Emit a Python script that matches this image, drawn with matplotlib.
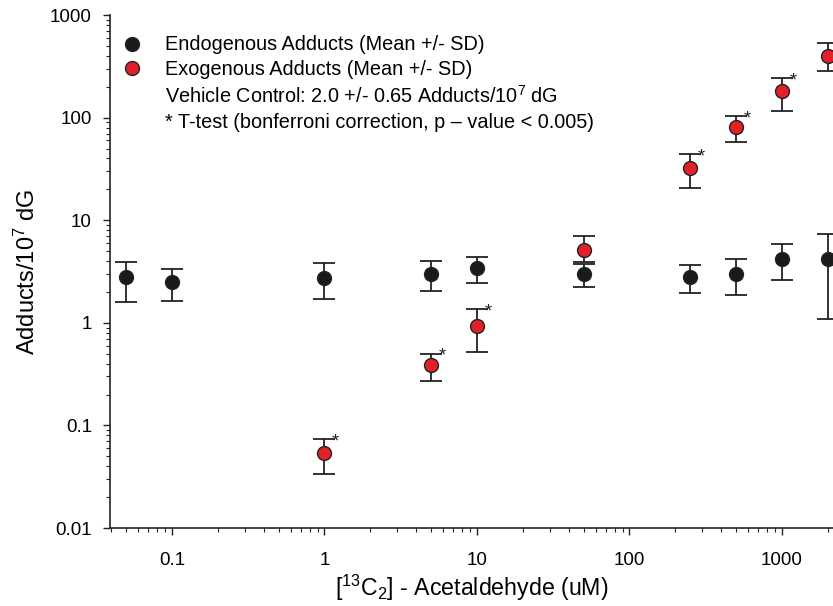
import numpy as np
import matplotlib
matplotlib.use("Agg")
import matplotlib.pyplot as plt
from matplotlib.lines import Line2D

plt.rcParams['font.family'] = ['Liberation Sans', 'DejaVu Sans']
plt.rcParams['mathtext.fontset'] = 'custom'
plt.rcParams['mathtext.rm'] = 'Liberation Sans'
plt.rcParams['mathtext.it'] = 'Liberation Sans:italic'
plt.rcParams['mathtext.bf'] = 'Liberation Sans:bold'

# endogenous adducts (black)
endo_x = [0.05, 0.1, 1, 5, 10, 50, 250, 500, 1000, 2000]
endo_y = [2.77, 2.49, 2.73, 3.01, 3.39, 2.96, 2.79, 3.01, 4.22, 4.22]
endo_hi = [3.91, 3.37, 3.79, 3.97, 4.37, 3.75, 3.63, 4.15, 5.85, 7.3]
endo_lo = [1.59, 1.62, 1.69, 2.02, 2.44, 2.23, 1.96, 1.85, 2.6, 1.09]

# exogenous adducts (red)
exo_x = [1, 5, 10, 50, 250, 500, 1000, 2000]
exo_y = [0.0537, 0.389, 0.94, 5.08, 32.6, 80.2, 180, 402]
exo_hi = [0.0736, 0.501, 1.35, 7.0, 44, 102.8, 241, 531]
exo_lo = [0.0335, 0.269, 0.521, 3.9, 20.8, 57.3, 115, 286]
exo_sig = [True, True, True, False, True, True, True, True]

red = '#e3202a'
dark = '#222222'

fig = plt.figure(figsize=(8.33, 6.06), dpi=100)
ax = fig.add_axes([0.132, 0.1287, 0.868, 0.8465])

def draw(xs, ys, lo, hi, face):
    ys = np.array(ys)
    yerr = [ys - np.array(lo), np.array(hi) - ys]
    ax.errorbar(xs, ys, yerr=yerr, fmt='none', ecolor=dark, elinewidth=1.3,
                capsize=8, capthick=1.3, zorder=2)
    ax.plot(xs, ys, 'o', ms=10, mfc=face, mec=dark, mew=1.0, ls='none', zorder=3)

draw(endo_x, endo_y, endo_lo, endo_hi, '#1a1a1a')
draw(exo_x, exo_y, exo_lo, exo_hi, red)

# significance marks, the last one is cut by the right edge like in the source
for x, h, s in zip(exo_x, exo_hi, exo_sig):
    if s:
        ax.annotate('*', (x, h), xytext=(8, -2), textcoords='offset points',
                    fontsize=13, color=dark, ha='center', va='center',
                    annotation_clip=False)

ax.set_xscale('log')
ax.set_yscale('log')
ax.set_xlim(0.0392, 2160)
ax.set_ylim(0.01, 1000)

ax.set_xticks([0.1, 1, 10, 100, 1000])
ax.set_xticklabels(['0.1', '1', '10', '100', '1000'])
ax.set_yticks([0.01, 0.1, 1, 10, 100, 1000])
ax.set_yticklabels(['0.01', '0.1', '1', '10', '100', '1000'])

ax.spines['top'].set_visible(False)
ax.spines['right'].set_visible(False)
for sp in ['left', 'bottom']:
    ax.spines[sp].set_color(dark)
    ax.spines[sp].set_linewidth(1.2)

ax.tick_params(which='major', direction='out', length=5, width=1, color=dark,
               labelsize=13.5)
ax.tick_params(which='minor', direction='out', length=3, width=0.8, color=dark)
ax.tick_params(axis='y', which='major', pad=8)
ax.tick_params(axis='x', which='major', pad=12)

ax.set_xlabel('[$^{13}$C$_2$] - Acetaldehyde (uM)', fontsize=16.7, labelpad=3)
ax.set_ylabel('Adducts/10$^7$ dG', fontsize=17, labelpad=7)

handles = [
    Line2D([], [], marker='o', ls='none', ms=10, mfc='#1a1a1a', mec=dark),
    Line2D([], [], marker='o', ls='none', ms=10, mfc=red, mec=dark),
    Line2D([], [], ls='none'),
    Line2D([], [], ls='none'),
]
labels = [
    'Endogenous Adducts (Mean +/- SD)',
    'Exogenous Adducts (Mean +/- SD)',
    'Vehicle Control: 2.0 +/- 0.65 Adducts/10$^7$ dG',
    '* T-test (bonferroni correction, p \u2013 value < 0.005)',
]
ax.legend(handles, labels, loc='upper left', bbox_to_anchor=(-0.008, 0.995),
          frameon=False, fontsize=14.3, handletextpad=1.15, labelspacing=0.3,
          handlelength=1.0, borderaxespad=0.5)

fig.savefig('out.png', dpi=100)
